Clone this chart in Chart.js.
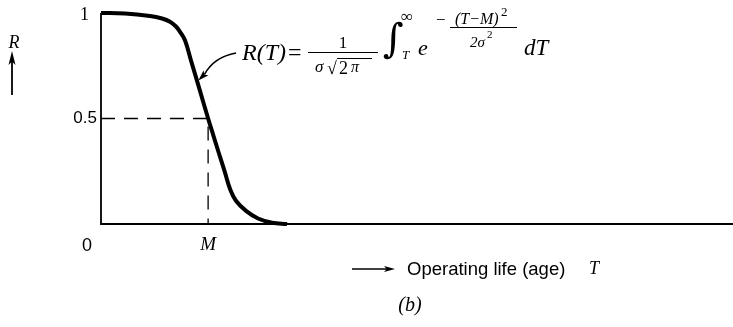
<!DOCTYPE html>
<html>
<head>
<meta charset="utf-8">
<script src="https://cdn.jsdelivr.net/npm/chart.js@4.4.1/dist/chart.umd.min.js"></script>
<style>
  html, body { margin: 0; padding: 0; background: #fff; }
  #wrap { position: relative; width: 733px; height: 327px; }
</style>
</head>
<body>
<div id="wrap"><canvas id="c"></canvas></div>
<script>
// Operating life T (arbitrary units, median life M = 10) and reliability R(T)
const lifeT       = [0, 2.24, 4.58, 5.70, 6.44, 7.0, 7.38, 7.84, 8.4, 9.2, 10, 10.5, 11.02, 11.55, 12.04, 12.6, 13.54, 14.66, 15.97, 17.37];
const reliability = [1, 0.998, 0.986, 0.974, 0.959, 0.936, 0.911, 0.871, 0.775, 0.638, 0.5, 0.418, 0.333, 0.248, 0.167, 0.11, 0.062, 0.026, 0.006, 0];

const medianLife = 10;      // M
const halfR = 0.5;
const axisMaxT = 59;
const yTickLabels = ['1', '0.5', '0'];
const yTickValues = [1, 0.5, 0];
const xTickLabel = 'M';
const axisTitle = 'Operating life (age)';
const panelLabel = '(b)';

const curvePts = lifeT.map((t, i) => ({ x: t, y: reliability[i] }));
const axisPts = [{ x: 0, y: 1 }, { x: 0, y: 0 }, { x: axisMaxT, y: 0 }];
const guidePts = [{ x: 0, y: halfR }, { x: medianLife, y: halfR }, { x: medianLife, y: 0 }];

const SERIF = '"Liberation Serif", "Times New Roman", serif';
const SANS = '"Liberation Sans", Arial, sans-serif';

function arrowHead(ctx, x, y, ang, len, wid) {
  ctx.save();
  ctx.translate(x, y);
  ctx.rotate(ang);
  ctx.beginPath();
  ctx.moveTo(0, 0);
  ctx.lineTo(-len, -wid / 2);
  ctx.lineTo(-len * 0.75, 0);
  ctx.lineTo(-len, wid / 2);
  ctx.closePath();
  ctx.fill();
  ctx.restore();
}

function txt(ctx, s, x, y, font, align) {
  ctx.font = font;
  ctx.textAlign = align || 'left';
  ctx.fillText(s, x, y);
  return ctx.measureText(s).width;
}

const labelsPlugin = {
  id: 'labels',
  afterDraw(chart) {
    const ctx = chart.ctx;
    const xs = chart.scales.x, ys = chart.scales.y;
    ctx.save();
    ctx.fillStyle = '#000';
    ctx.strokeStyle = '#000';

    // y tick labels
    const x0 = xs.getPixelForValue(0);
    ctx.textBaseline = 'middle';
    txt(ctx, yTickLabels[0], x0 - 12, ys.getPixelForValue(yTickValues[0]) + 2, '18px ' + SERIF, 'right');
    txt(ctx, yTickLabels[1], x0 - 4, ys.getPixelForValue(yTickValues[1]), '17px ' + SANS, 'right');
    txt(ctx, yTickLabels[2], x0 - 14, ys.getPixelForValue(yTickValues[2]) + 22, '18px ' + SANS, 'center');

    // M tick label
    txt(ctx, xTickLabel, xs.getPixelForValue(medianLife), ys.getPixelForValue(0) + 21, 'italic 19px ' + SERIF, 'center');

    // R with upward arrow
    txt(ctx, 'R', 14, 43, 'italic 18px ' + SERIF, 'center');
    ctx.lineWidth = 1.8;
    ctx.beginPath(); ctx.moveTo(12, 95); ctx.lineTo(12, 60); ctx.stroke();
    arrowHead(ctx, 12, 51, -Math.PI / 2, 14, 7);

    // axis title with arrow
    const ty = ys.getPixelForValue(0) + 45;
    ctx.lineWidth = 1.4;
    ctx.beginPath(); ctx.moveTo(352, ty); ctx.lineTo(388, ty); ctx.stroke();
    arrowHead(ctx, 395, ty, 0, 11, 6);
    txt(ctx, axisTitle, 407, ty + 1, '18.5px ' + SANS, 'left');
    txt(ctx, 'T', 589, ty, 'italic 18px ' + SERIF, 'left');

    // panel label
    txt(ctx, panelLabel, 410, ty + 37, 'italic 20px ' + SERIF, 'center');

    // formula
    ctx.textBaseline = 'alphabetic';
    txt(ctx, 'R(T)', 242, 60, 'italic 24px ' + SERIF);
    txt(ctx, '=', 288, 60, '24px ' + SERIF);
    txt(ctx, '1', 343, 48, '17px ' + SERIF, 'center');
    ctx.lineWidth = 1.2;
    ctx.beginPath(); ctx.moveTo(308, 52.5); ctx.lineTo(378, 52.5); ctx.stroke();
    txt(ctx, 'σ', 315, 72, 'italic 17px ' + SERIF);
    txt(ctx, '√', 327, 74, 'bold 18px ' + SERIF);
    ctx.lineWidth = 1;
    ctx.beginPath(); ctx.moveTo(337, 58.5); ctx.lineTo(372, 58.5); ctx.stroke();
    txt(ctx, '2', 339, 74, '18px ' + SERIF);
    txt(ctx, 'π', 351, 72, 'italic 16px ' + SERIF);
    txt(ctx, '∫', 383, 52, 'italic 40px "DejaVu Serif", serif');
    txt(ctx, '∞', 401, 22, '17px ' + SERIF);
    txt(ctx, 'T', 402, 59, 'italic 13px ' + SERIF);
    txt(ctx, 'e', 418, 55, 'italic 22px ' + SERIF);
    txt(ctx, '−', 436, 25, '17px ' + SERIF);
    ctx.beginPath(); ctx.moveTo(450, 27.5); ctx.lineTo(517, 27.5); ctx.stroke();
    txt(ctx, '(T−M)', 455, 24, 'italic 16px ' + SERIF);
    txt(ctx, '2', 501, 16, '13px ' + SERIF);
    txt(ctx, '2σ', 470, 47, 'italic 15px ' + SERIF);
    txt(ctx, '2', 487, 38, '11px ' + SERIF);
    txt(ctx, 'dT', 524, 55, 'italic 23px ' + SERIF);

    // pointer from formula to curve
    const hx = xs.getPixelForValue(8.9) + 2, hy = ys.getPixelForValue(0.68);
    ctx.lineWidth = 1.6;
    ctx.beginPath();
    ctx.moveTo(236, 53);
    ctx.quadraticCurveTo(214, 57, hx + 6, hy - 6);
    ctx.stroke();
    arrowHead(ctx, hx, hy, Math.atan2(6, -6), 11, 7);

    ctx.restore();
  }
};

new Chart(document.getElementById('c'), {
  type: 'line',
  data: {
    datasets: [
      { data: curvePts, borderColor: '#000', borderWidth: 4, pointRadius: 0,
        tension: 0.4, clip: 10, order: 0 },
      { data: guidePts, borderColor: '#000', borderWidth: 1.3, borderDash: [14, 9],
        pointRadius: 0, tension: 0, clip: 10, order: 1 },
      { data: axisPts, borderColor: '#000', borderWidth: 1.8, pointRadius: 0,
        tension: 0, clip: 10, order: 2 }
    ]
  },
  options: {
    responsive: true,
    maintainAspectRatio: false,
    animation: false,
    layout: { padding: { left: 101, right: 0, top: 13, bottom: 103 } },
    plugins: { legend: { display: false }, tooltip: { enabled: false } },
    scales: {
      x: { type: 'linear', min: 0, max: axisMaxT, display: false },
      y: { type: 'linear', min: 0, max: 1, display: false }
    }
  },
  plugins: [labelsPlugin]
});
</script>
</body>
</html>
